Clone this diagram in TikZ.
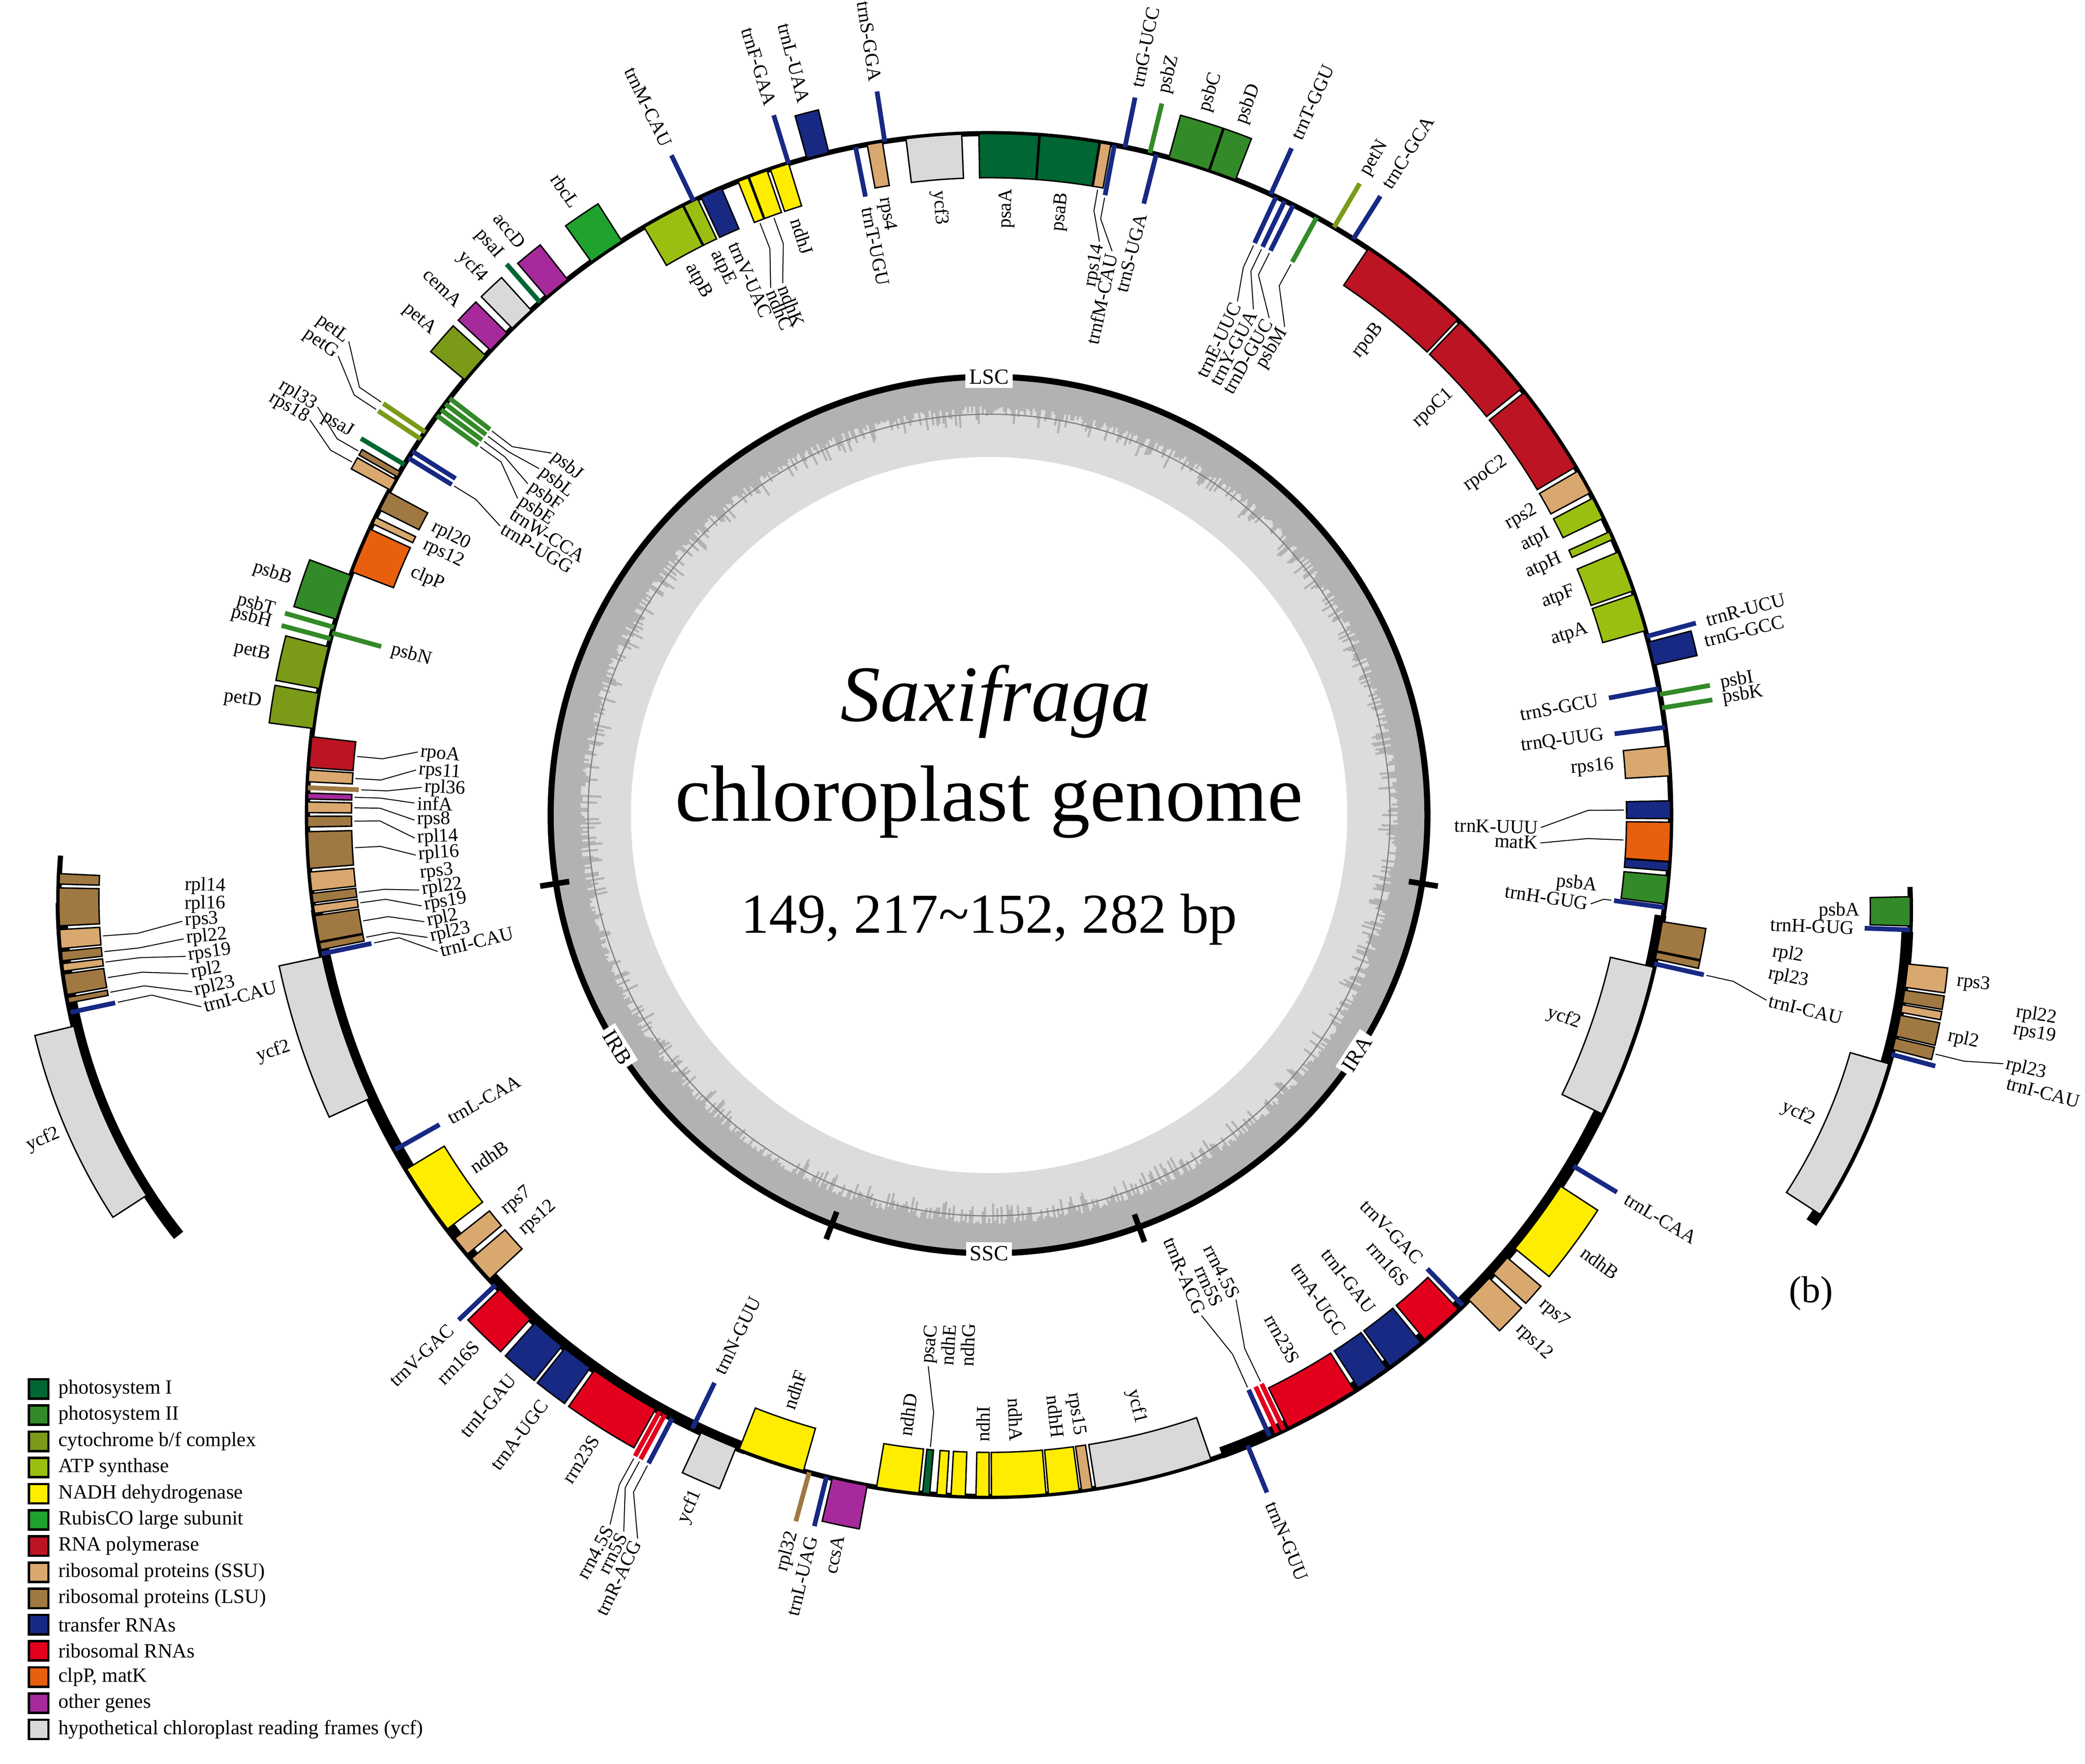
\documentclass[tikz,border=0pt]{standalone}
\usepackage{fontspec}
\setmainfont{Liberation Serif}
\definecolor{psI}{HTML}{006633}
\definecolor{psII}{HTML}{338A28}
\definecolor{cyt}{HTML}{7A9A18}
\definecolor{ATP}{HTML}{9ABF10}
\definecolor{NADH}{HTML}{FFED00}
\definecolor{rubisco}{HTML}{1FA22E}
\definecolor{RNApol}{HTML}{BC1423}
\definecolor{SSU}{HTML}{D9A86F}
\definecolor{LSU}{HTML}{A07842}
\definecolor{tRNA}{HTML}{172983}
\definecolor{rRNA}{HTML}{E2001D}
\definecolor{clpP}{HTML}{E8600E}
\definecolor{other}{HTML}{A62A9C}
\definecolor{ycf}{HTML}{D9D9D9}
\definecolor{gcd}{HTML}{B2B2B2}
\definecolor{gcl}{HTML}{DCDCDC}
\newcounter{gl}
\def\RR{510}\def\HH{33}\def\LL{38}
\newcommand\gene[7][6]{%
 \pgfmathsetmacro\gm{(#2+#3)/2}%
 \pgfmathsetmacro\gw{#3-#2}%
 \ifx\relax#7\relax\let\la\gm\else\def\la{#7}\fi
 \if#4o\def\sg{1}\else\def\sg{-1}\fi
 \ifdim\gw pt<0.5pt
   \pgfmathsetmacro\re{\RR+\sg*\LL}%
   \draw[line width=1pt,#5] ({\gm-90}:\RR) -- ({\gm-90}:\re);
 \else
   \pgfmathsetmacro\re{\RR+\sg*\HH}%
   \filldraw[fill=#5,draw=black,line width=0.3pt] ({#2-90}:\RR) arc[start angle=#2-90,end angle=#3-90,radius=\RR] -- ({#3-90}:\re) arc[start angle=#3-90,end angle=#2-90,radius=\re] -- cycle;
 \fi
 \pgfmathsetmacro\rl{\re+\sg*#1}%
 \pgfmathsetmacro\dd{abs(\la-\gm)}%
 \ifdim\dd pt>0.4pt
   \pgfmathsetmacro\ra{\re+\sg*2}\pgfmathsetmacro\rb{\re+\sg*0.45*#1}%
   \draw[leader] ({\gm-90}:\ra) -- ({\gm-90}:\rb) -- ({\la-90}:\rl);
 \fi
 \ifx\relax#6\relax\else
 \pgfmathsetmacro\aa{mod(\la+720,360)}%
 \ifdim\aa pt<180pt \pgfmathsetmacro\rot{90-\aa}\if#4o\def\anc{west}\else\def\anc{east}\fi
 \else \pgfmathsetmacro\rot{270-\aa}\if#4o\def\anc{east}\else\def\anc{west}\fi\fi
 \stepcounter{gl}%
 \node[glab,anchor=\anc,rotate=\rot] (g\arabic{gl}) at ({\la-90}:\rl) {#6};
 \fi}
\tikzset{
 glab/.style={font=\fontsize{4.1}{4.1}\selectfont,inner sep=0.4pt},
 leader/.style={line width=0.2pt,black},
 ringthin/.style={line width=1.1pt},
 ringthick/.style={line width=2.5pt},
 seglab/.style={fill=white,inner sep=0.8pt,font=\fontsize{4.6}{4.6}\selectfont},
 legbox/.style={draw=black,line width=0.5pt,minimum size=0.145cm,inner sep=0pt},
 legtext/.style={anchor=west,font=\fontsize{4.3}{4.3}\selectfont,inner sep=0pt}
}
\begin{document}
\begin{tikzpicture}[x=0.01cm,y=-0.01cm]
\useasboundingbox (0,0) rectangle (1560,1320.2);
% ---------- main map ----------
\begin{scope}[shift={(740,610)}]
 \fill[gcd] (0,0) circle[radius=326];
 \fill[gcl] (0,0) circle[radius=306];
 \pgfmathsetseed{7}
 \foreach \t in {0,0.3,...,359.8}{%
   \pgfmathsetmacro\ll{306-16*rnd^2}%
   \draw[gcd,line width=0.45pt] (\t:306.5) -- (\t:\ll);}
 \fill[white] (0,0) circle[radius=268];
 \draw[gray,line width=0.25pt] (0,0) circle[radius=300];
 \draw[line width=1.3pt] (0,0) circle[radius=328];
 \foreach \t in {99,160,201,261} \draw[line width=1.2pt] ({\t-90}:318) -- ({\t-90}:340);
 \node[seglab] (lsc) at (-90:328) {LSC};
 \node[seglab] (ssc) at (90:328) {SSC};
 \node[seglab,rotate=57] (ira) at (33:328) {IRA};
 \node[seglab,rotate=-58] (irb) at (148:328) {IRB};
 \draw[ringthin] (0,0) circle[radius=510];
 \draw[ringthick] (8.5:508) arc[start angle=8.5,end angle=70,radius=508];
 \draw[ringthick] (111:508) arc[start angle=111,end angle=172,radius=508];
 \gene{-0.85}{4.2}{i}{psI}{psaA}{}
 \gene{4.3}{9.3}{i}{psI}{psaB}{}
 \gene[40]{9.4}{10.3}{i}{SSU}{rps14}{10.9}
 \gene[40]{10.45}{10.75}{i}{tRNA}{trnfM-CAU}{12.3}
 \gene{11.35}{11.65}{o}{tRNA}{trnG-UCC}{}
 \gene{13.45}{13.85}{o}{psII}{psbZ}{}
 \gene{14.05}{14.35}{i}{tRNA}{trnS-UGA}{}
 \gene{15.3}{18.8}{o}{psII}{psbC}{}
 \gene{18.9}{21.2}{o}{psII}{psbD}{}
 \gene{24.25}{24.55}{o}{tRNA}{trnT-GGU}{}
 \gene[45]{24.75}{25.05}{i}{tRNA}{trnE-UUC}{25.8}
 \gene[45]{25.55}{25.85}{i}{tRNA}{trnY-GUA}{27.6}
 \gene[45]{26.35}{26.65}{i}{tRNA}{trnD-GUC}{29.4}
 \gene[45]{28.5}{28.95}{i}{psII}{psbM}{31.2}
 \gene{30.2}{30.6}{o}{cyt}{petN}{}
 \gene{32.15}{32.45}{o}{tRNA}{trnC-GCA}{}
 \gene{33.8}{43.4}{i}{RNApol}{rpoB}{}
 \gene{43.7}{51.3}{i}{RNApol}{rpoC1}{}
 \gene{51.7}{59.3}{i}{RNApol}{rpoC2}{}
 \gene{59.7}{61.8}{i}{SSU}{rps2}{}
 \gene{62.3}{64.2}{i}{ATP}{atpI}{}
 \gene{65.45}{66.15}{i}{ATP}{atpH}{}
 \gene{67.3}{70.8}{i}{ATP}{atpF}{}
 \gene{71.1}{74.3}{i}{ATP}{atpA}{}
 \gene{74.65}{74.95}{o}{tRNA}{trnR-UCU}{}
 \gene{75.3}{77.3}{o}{tRNA}{trnG-GCC}{}
 \gene{79.15}{79.45}{i}{tRNA}{trnS-GCU}{}
 \gene{79.65}{79.95}{o}{psII}{psbI}{}
 \gene{80.75}{81.15}{o}{psII}{psbK}{}
 \gene{82.45}{82.75}{i}{tRNA}{trnQ-UUG}{}
 \gene{84.2}{86.7}{i}{SSU}{rps16}{}
 \gene[64]{88.8}{90.3}{i}{tRNA}{trnK-UUU}{91.3}
 \gene[64]{90.6}{93.9}{i}{clpP}{matK}{92.9}
 \gene{93.95}{94.7}{i}{tRNA}{}{}
 \gene[17]{95.1}{97.5}{i}{psII}{psbA}{96.7}
 \gene[17]{97.65}{97.95}{i}{tRNA}{trnH-GUG}{98.4}
 \gene[50]{99}{101.5}{o}{LSU}{rpl2}{99.9}
 \gene[50]{101.6}{102.2}{o}{LSU}{rpl23}{101.5}
 \gene[50]{102.45}{102.75}{o}{tRNA}{trnI-CAU}{103.4}
 \gene{102.9}{116}{i}{ycf}{ycf2}{}
 \gene{120.85}{121.15}{o}{tRNA}{trnL-CAA}{}
 \gene{123}{129.5}{o}{NADH}{ndhB}{}
 \gene{130.5}{132.3}{o}{SSU}{rps7}{}
 \gene{132.8}{135.3}{o}{SSU}{rps12}{}
 \gene{135.85}{136.15}{i}{tRNA}{trnV-GAC}{}
 \gene{136.5}{140.3}{i}{rRNA}{rrn16S}{}
 \gene{140.7}{144}{i}{tRNA}{trnI-GAU}{}
 \gene{144.3}{147.2}{i}{tRNA}{trnA-UGC}{}
 \gene{147.6}{154}{i}{rRNA}{rrn23S}{}
 \gene[65]{154.25}{154.55}{i}{rRNA}{rrn4.5S}{153}
 \gene[65]{154.85}{155.15}{i}{rRNA}{rrn5S}{155}
 \gene[65]{155.55}{155.85}{i}{tRNA}{trnR-ACG}{157}
 \gene{157.55}{157.85}{o}{tRNA}{trnN-GUU}{}
 \gene{161}{171}{i}{ycf}{ycf1}{}
 \gene{171.3}{172.2}{i}{SSU}{rps15}{}
 \gene{172.4}{175}{i}{NADH}{ndhH}{}
 \gene{175.2}{179.8}{i}{NADH}{ndhA}{}
 \gene{180}{181.1}{i}{NADH}{ndhI}{}
 \gene[62]{182}{183.2}{i}{NADH}{ndhG}{182.3}
 \gene[62]{183.6}{184.4}{i}{NADH}{ndhE}{184.4}
 \gene[62]{185}{185.6}{i}{psI}{psaC}{186.3}
 \gene{185.9}{189.5}{i}{NADH}{ndhD}{}
 \gene{190.3}{193.3}{o}{other}{ccsA}{}
 \gene{193.65}{193.95}{o}{tRNA}{trnL-UAG}{}
 \gene{195.15}{195.45}{o}{LSU}{rpl32}{}
 \gene{195.8}{201.5}{i}{NADH}{ndhF}{}
 \gene{201.8}{205}{o}{ycf}{ycf1}{}
 \gene{205.65}{205.95}{i}{tRNA}{trnN-GUU}{}
 \gene[54]{207.55}{207.85}{o}{tRNA}{trnR-ACG}{205.9}
 \gene[54]{208.25}{208.55}{o}{rRNA}{rrn5S}{207}
 \gene[54]{208.75}{209.05}{o}{rRNA}{rrn4.5S}{208.1}
 \gene{209.3}{215.4}{o}{rRNA}{rrn23S}{}
 \gene{215.8}{218.5}{o}{tRNA}{trnA-UGC}{}
 \gene{218.8}{221.8}{o}{tRNA}{trnI-GAU}{}
 \gene{222.3}{225.9}{o}{rRNA}{rrn16S}{}
 \gene{226.25}{226.55}{o}{tRNA}{trnV-GAC}{}
 \gene{227.1}{229.4}{i}{SSU}{rps12}{}
 \gene{229.9}{231.6}{i}{SSU}{rps7}{}
 \gene{232.6}{238.7}{i}{NADH}{ndhB}{}
 \gene{240.45}{240.75}{i}{tRNA}{trnL-CAA}{}
 \gene{245.4}{258}{o}{ycf}{ycf2}{}
 \gene[47]{258.1}{258.4}{i}{tRNA}{trnI-CAU}{256.1}
 \gene[47]{258.6}{259.2}{i}{LSU}{rpl23}{257.7}
 \gene[47]{259.3}{261.5}{i}{LSU}{rpl2}{259.3}
 \gene[47]{261.7}{262.4}{i}{SSU}{rps19}{260.9}
 \gene[47]{262.6}{263.4}{i}{LSU}{rpl22}{262.5}
 \gene[47]{263.6}{265.2}{i}{SSU}{rps3}{264.1}
 \gene[47]{265.5}{268.6}{i}{LSU}{rpl16}{266}
 \gene[47]{269}{269.9}{i}{LSU}{rpl14}{267.7}
 \gene[47]{270.2}{271.1}{i}{SSU}{rps8}{269.5}
 \gene[47]{271.35}{271.85}{i}{other}{infA}{271.2}
 \gene[47]{272.1}{272.5}{i}{LSU}{rpl36}{272.8}
 \gene[47]{272.8}{273.8}{i}{SSU}{rps11}{274.5}
 \gene[47]{274}{276.6}{i}{RNApol}{rpoA}{276.3}
 \gene{277.3}{280.3}{o}{cyt}{petD}{}
 \gene{280.7}{284.3}{o}{cyt}{petB}{}
 \gene{284.8}{285.2}{o}{psII}{psbH}{}
 \gene{285.35}{285.65}{i}{psII}{psbN}{}
 \gene{285.8}{286.2}{o}{psII}{psbT}{}
 \gene{286.7}{290.6}{o}{psII}{psbB}{}
 \gene{290.9}{294.8}{i}{clpP}{clpP}{}
 \gene{295.3}{295.9}{i}{SSU}{rps12}{}
 \gene{296.6}{298.3}{i}{LSU}{rpl20}{}
 \gene[45]{298.5}{299.5}{o}{SSU}{rps18}{300.2}
 \gene[45]{299.75}{300.25}{o}{LSU}{rpl33}{301.3}
 \gene{300.75}{301.15}{o}{psI}{psaJ}{}
 \gene[47]{301.45}{301.75}{i}{tRNA}{trnP-UGG}{300.6}
 \gene[47]{302.1}{302.4}{i}{tRNA}{trnW-CCA}{302.4}
 \gene[48]{303.35}{303.65}{o}{cyt}{petG}{305.2}
 \gene[48]{304.05}{304.35}{o}{cyt}{petL}{306.5}
 \gene[47]{305.7}{306.1}{i}{psII}{psbE}{303.9}
 \gene[47]{306.3}{306.7}{i}{psII}{psbF}{305.7}
 \gene[47]{306.9}{307.3}{i}{psII}{psbL}{307.6}
 \gene[47]{307.5}{307.9}{i}{psII}{psbJ}{309.6}
 \gene{309.7}{312.4}{o}{cyt}{petA}{}
 \gene{313}{315}{o}{other}{cemA}{}
 \gene{315.6}{317.8}{o}{ycf}{ycf4}{}
 \gene{318.6}{319}{o}{psI}{psaI}{}
 \gene{319.5}{321.8}{o}{other}{accD}{}
 \gene{324.3}{327.4}{o}{rubisco}{rbcL}{}
 \gene{329.6}{333.3}{i}{ATP}{atpB}{}
 \gene{333.4}{334.7}{i}{ATP}{atpE}{}
 \gene{334.15}{334.45}{o}{tRNA}{trnM-CAU}{}
 \gene{335}{336.9}{i}{tRNA}{trnV-UAC}{}
 \gene[50]{338.4}{339.3}{i}{NADH}{ndhC}{337.5}
 \gene[50]{339.4}{341}{i}{NADH}{ndhK}{338.8}
 \gene{341.3}{342.9}{i}{NADH}{ndhJ}{}
 \gene{342.75}{343.05}{o}{tRNA}{trnF-GAA}{}
 \gene{344.5}{346.4}{o}{tRNA}{trnL-UAA}{}
 \gene{348.55}{348.85}{i}{tRNA}{trnT-UGU}{}
 \gene{349.7}{351}{i}{SSU}{rps4}{}
 \gene{351.05}{351.35}{o}{tRNA}{trnS-GGA}{}
 \gene{353}{357.7}{i}{ycf}{ycf3}{}
\end{scope}
\node[font=\fontsize{17}{17}\selectfont\itshape] (t1) at (745,525) {Saxifraga};
\node[font=\fontsize{17}{17}\selectfont] (t2) at (740,600) {chloroplast genome};
\node[font=\fontsize{12}{12}\selectfont] (t3) at (740,688) {149, 217\textasciitilde152, 282 bp};
\node[font=\fontsize{8}{8}\selectfont] (b) at (1355,968) {(b)};
\begin{scope}[shift={(1010.4,680.6)}]
 \def\RR{419}\def\HH{30}\def\LL{34}
 \draw[ringthin] (-2.3:419) arc[start angle=-2.3,end angle=2.3,radius=419];
 \draw[ringthick] (2.3:417) arc[start angle=2.3,end angle=34.2,radius=417];
 \gene{88.7}{91.7}{i}{psII}{psbA}{}
 \gene{91.95}{92.25}{i}{tRNA}{trnH-GUG}{}
 \gene{95.6}{98}{o}{SSU}{rps3}{}
 \gene[53]{98.3}{99.6}{o}{LSU}{rpl22}{98.8}
 \gene[53]{99.8}{100.6}{o}{SSU}{rps19}{100.3}
 \gene{100.9}{103.1}{o}{LSU}{rpl2}{}
 \gene[53]{103.3}{104.5}{o}{LSU}{rpl23}{103.3}
 \gene[53]{104.85}{105.15}{o}{tRNA}{trnI-CAU}{104.8}
 \gene{106}{123}{i}{ycf}{ycf2}{}
\end{scope}
\begin{scope}[shift={(451,673)}]
 \def\RR{407}\def\HH{30}\def\LL{34}
 \draw[ringthin] (184.6:407) arc[start angle=184.6,end angle=179.6,radius=407];
 \draw[ringthick] (179.6:405) arc[start angle=179.6,end angle=141.6,radius=405];
 \gene[62]{271.6}{272.7}{i}{LSU}{rpl14}{271.9}
 \gene[62]{267.2}{271.2}{i}{LSU}{rpl16}{269.3}
 \gene[62]{264.8}{266.8}{i}{SSU}{rps3}{267}
 \gene[62]{263.5}{264.5}{i}{LSU}{rpl22}{264.6}
 \gene[62]{262.4}{263.2}{i}{SSU}{rps19}{262.2}
 \gene[62]{259.9}{262.1}{i}{LSU}{rpl2}{259.8}
 \gene[62]{259}{259.6}{i}{LSU}{rpl23}{257.3}
 \gene[62]{257.85}{258.15}{i}{tRNA}{trnI-CAU}{255}
 \gene[4]{237}{256.5}{o}{ycf}{ycf2}{}
\end{scope}
\foreach \c/\t [count=\i from 0] in {psI/photosystem I,psII/photosystem II,cyt/cytochrome b{/}f complex,ATP/ATP synthase,NADH/NADH dehydrogenase,rubisco/RubisCO large subunit,RNApol/RNA polymerase,SSU/ribosomal proteins (SSU),LSU/ribosomal proteins (LSU),tRNA/transfer RNAs,rRNA/ribosomal RNAs,clpP/{clpP, matK},other/other genes,ycf/hypothetical chloroplast reading frames (ycf)}{
 \node[legbox,fill=\c] (lb\i) at (29,1039.5+19.6*\i) {};
 \node[legtext] (lt\i) at (43,1039.5+19.6*\i) {\t};
}
\end{tikzpicture}
\end{document}
